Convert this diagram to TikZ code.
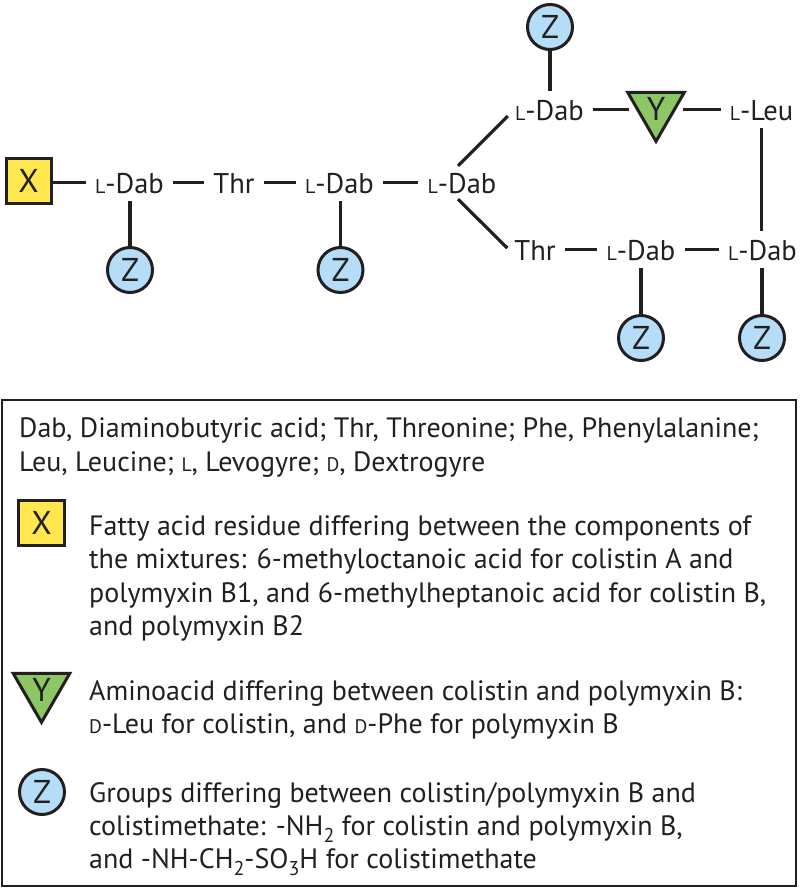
\documentclass[tikz,border=0pt]{standalone}
\usepackage{fontspec}
\setmainfont{PT Sans}
\usepackage{graphicx}
\usetikzlibrary{shapes.geometric,calc}
\definecolor{ink}{HTML}{231F20}
\definecolor{xyellow}{HTML}{FFE74D}
\definecolor{ygreen}{HTML}{8DC765}
\definecolor{zblue}{HTML}{B5DDF8}
\newcommand\lsc{\scalebox{0.7}{L}}
\newcommand\dsc{\scalebox{0.7}{D}}
\newcommand\sbs[1]{\raisebox{-0.27em}{\fontsize{20}{20}\selectfont #1}}
\begin{document}
\begin{tikzpicture}[x=1pt,y=-1pt,
  lbl/.style={font=\fontsize{28.5}{30}\selectfont, text=ink, inner xsep=9pt, inner ysep=8pt, text height=21pt, text depth=0pt, anchor=base},
  conn/.style={draw=ink, line width=3.2pt},
  symfont/.style={font=\fontsize{33}{34}\selectfont, text=ink},
  xbox/.style={symfont, rectangle, draw=ink, fill=xyellow, line width=3pt, minimum width=45pt, minimum height=45pt, inner sep=0pt},
  ytri/.style={symfont, regular polygon, regular polygon sides=3, shape border rotate=180, draw=ink, fill=ygreen, line width=3pt, minimum size=65pt, inner sep=0pt},
  zcirc/.style={symfont, circle, draw=ink, fill=zblue, line width=3pt, minimum size=45pt, inner sep=0pt},
  leg/.style={anchor=base west, inner sep=0pt, font=\fontsize{28}{30}\selectfont, text=ink},
  frame/.style={draw=ink, line width=2pt}
]
\useasboundingbox (0,0) rectangle (800,889);
% ---- molecule ----
\node[xbox] (X) at (28.5,181) {X};
\node[lbl] (d1) at (129.5,193) {\lsc-Dab};
\node[lbl] (t1) at (234,193) {Thr};
\node[lbl] (d2) at (339.5,193) {\lsc-Dab};
\node[lbl] (d3) at (462,193) {\lsc-Dab};
\node[lbl] (d4) at (549.5,120) {\lsc-Dab};
\node[ytri] (Y) at (656,108.7) {Y};
\node[lbl] (leu) at (761.5,120) {\lsc-Leu};
\node[lbl] (t2) at (535,260) {Thr};
\node[lbl] (d5) at (641,260) {\lsc-Dab};
\node[lbl] (d6) at (762.5,260) {\lsc-Dab};
\node[zcirc] (z1) at (130,270) {Z};
\node[zcirc] (z2) at (340.5,270) {Z};
\node[zcirc] (z4) at (550,27) {Z};
\node[zcirc] (z5) at (641,338) {Z};
\node[zcirc] (z6) at (762,338) {Z};

\draw[conn] (X.east |- d1) -- (d1.west);
\draw[conn] (d1.east) -- (t1.west);
\draw[conn] (t1.east) -- (d2.west);
\draw[conn] (d2.east) -- (d3.west);
\draw[conn] ($(d3.north)+(-4,2)$) -- ($(d4.west)+(2,6.5)$);
\draw[conn] ($(d3.south)+(-4,-2)$) -- ($(t2.west)+(2,-1.5)$);
\draw[conn, shorten >=6pt] (d4.east) -- (d4.east -| Y.west);
\draw[conn, shorten <=6pt] (leu.west -| Y.east) -- (leu.west);
\draw[conn] (leu.south) -- (leu.south |- d6.north);
\draw[conn] (t2.east) -- (d5.west);
\draw[conn] (d5.east) -- (d6.west);
\draw[conn] (z1.north) -- (z1.north |- d1.south);
\draw[conn] (z2.north) -- (z2.north |- d2.south);
\draw[conn] (z4.south) -- (z4.south |- d4.north);
\draw[conn] (z5.north) -- (z5.north |- d5.south);
\draw[conn] (z6.north) -- (z6.north |- d6.south);

% ---- legend ----
\draw[frame] (2,400) rectangle (796,886);
\node[leg] (a1) at (19,437) {Dab, Diaminobutyric acid; Thr, Threonine; Phe, Phenylalanine;};
\node[leg] (a2) at (19,471) {Leu, Leucine; \lsc, Levogyre; \dsc, Dextrogyre};

\node[xbox, minimum width=46pt] (lx) at (41.5,523) {X};
\node[leg] (b1) at (89,535) {Fatty acid residue differing between the components of};
\node[leg] (b2) at (89,568) {the mixtures: 6-methyloctanoic acid for colistin A and};
\node[leg] (b3) at (89,602) {polymyxin B1, and 6-methylheptanoic acid for colistin B,};
\node[leg] (b4) at (89,635) {and polymyxin B2};

\node[ytri] (ly) at (41.5,689.7) {Y};
\node[leg] (c1) at (89,700) {Aminoacid differing between colistin and polymyxin B:};
\node[leg] (c2) at (89,733) {\dsc-Leu for colistin, and \dsc-Phe for polymyxin B};

\node[zcirc] (lz) at (42,792) {Z};
\node[leg] (e1) at (89,802) {Groups differing between colistin/polymyxin B and};
\node[leg] (e2) at (89,835) {colistimethate: -NH\sbs{2} for colistin and polymyxin B,};
\node[leg] (e3) at (89,868) {and -NH-CH\sbs{2}-SO\sbs{3}H for colistimethate};
\end{tikzpicture}
\end{document}
